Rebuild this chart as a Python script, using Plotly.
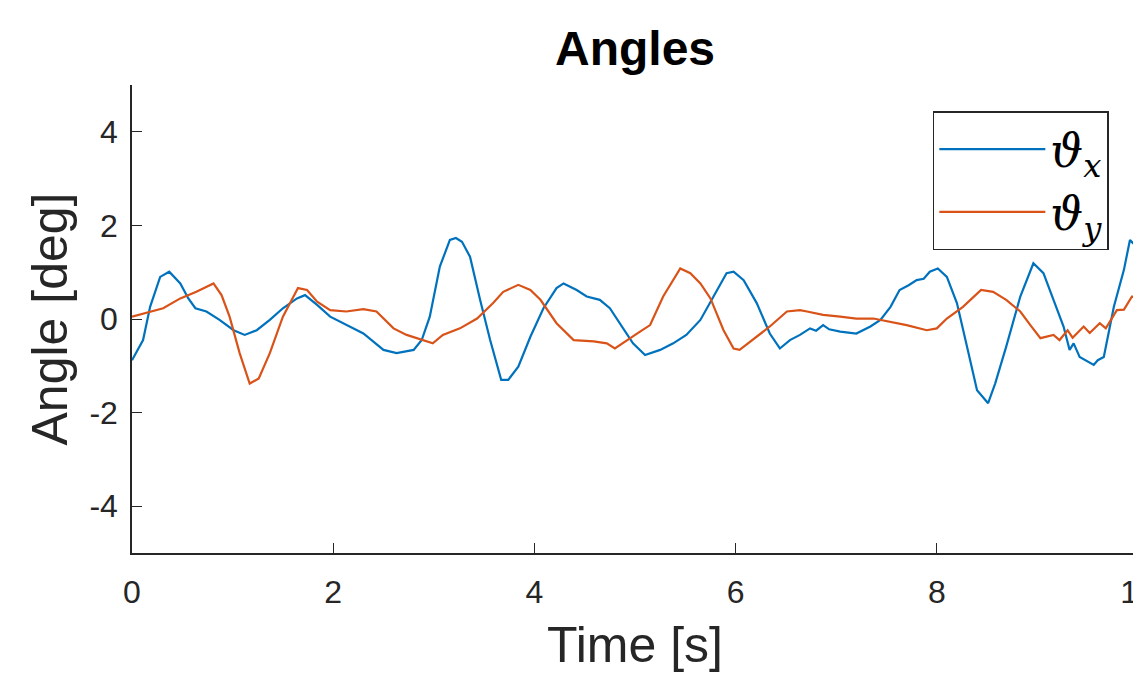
import plotly.graph_objects as go

# Time samples and angle values
t_x = [0.00, 0.11, 0.18, 0.28, 0.37, 0.48, 0.56, 0.63, 0.74, 0.87, 1.01, 1.12, 1.24, 1.37, 1.50,
       1.64, 1.72, 1.84, 1.97, 2.13, 2.30, 2.50, 2.63, 2.80, 2.88, 2.96, 3.06, 3.16, 3.22, 3.28,
       3.36, 3.46, 3.56, 3.67, 3.74, 3.84, 3.96, 4.09, 4.22, 4.29, 4.42, 4.52, 4.65, 4.75, 4.85,
       4.98, 5.10, 5.25, 5.38, 5.51, 5.65, 5.78, 5.91, 5.98, 6.08, 6.21, 6.34, 6.44, 6.54, 6.64,
       6.74, 6.80, 6.87, 6.93, 7.04, 7.20, 7.34, 7.44, 7.54, 7.63, 7.72, 7.80, 7.87, 7.93, 8.01,
       8.10, 8.20, 8.30, 8.40, 8.51, 8.58, 8.69, 8.83, 8.96, 9.06, 9.16, 9.26, 9.32, 9.36, 9.42,
       9.50, 9.56, 9.60, 9.66, 9.76, 9.86, 9.92, 9.95, 9.98]
theta_x = [-0.88, -0.45, 0.26, 0.90, 1.01, 0.76, 0.44, 0.23, 0.16, -0.02, -0.24, -0.34, -0.24, -0.02, 0.23,
           0.44, 0.51, 0.30, 0.05, -0.13, -0.31, -0.66, -0.73, -0.66, -0.45, 0.05, 1.12, 1.69, 1.73, 1.65,
           1.33, 0.41, -0.45, -1.30, -1.30, -1.02, -0.38, 0.23, 0.66, 0.76, 0.62, 0.48, 0.41, 0.23, -0.09,
           -0.52, -0.77, -0.66, -0.52, -0.34, -0.02, 0.48, 0.98, 1.01, 0.83, 0.34, -0.31, -0.63, -0.45, -0.34,
           -0.20, -0.25, -0.13, -0.22, -0.27, -0.31, -0.16, -0.02, 0.26, 0.62, 0.72, 0.83, 0.86, 1.01, 1.08,
           0.90, 0.34, -0.59, -1.52, -1.80, -1.38, -0.59, 0.48, 1.19, 0.98, 0.41, -0.16, -0.66, -0.52, -0.81,
           -0.90, -0.98, -0.88, -0.81, 0.26, 1.05, 1.69, 1.62, 1.60]

t_y = [0.00, 0.18, 0.31, 0.48, 0.64, 0.81, 0.89, 0.97, 1.07, 1.17, 1.26, 1.37, 1.50, 1.65, 1.74,
       1.84, 1.97, 2.13, 2.30, 2.43, 2.60, 2.73, 2.90, 2.99, 3.09, 3.26, 3.43, 3.59, 3.69, 3.84,
       3.96, 4.06, 4.22, 4.39, 4.59, 4.72, 4.80, 4.92, 5.05, 5.15, 5.28, 5.45, 5.55, 5.65, 5.75,
       5.88, 5.98, 6.04, 6.17, 6.34, 6.51, 6.64, 6.71, 6.87, 7.04, 7.20, 7.37, 7.54, 7.70, 7.90,
       8.00, 8.10, 8.26, 8.44, 8.56, 8.69, 8.83, 8.93, 9.03, 9.16, 9.22, 9.30, 9.35, 9.46, 9.52,
       9.62, 9.68, 9.79, 9.86, 9.94, 9.98]
theta_y = [0.05, 0.16, 0.23, 0.44, 0.58, 0.76, 0.51, 0.05, -0.73, -1.38, -1.27, -0.73, 0.05, 0.66, 0.62,
           0.37, 0.19, 0.16, 0.21, 0.16, -0.20, -0.34, -0.45, -0.52, -0.34, -0.20, 0.01, 0.34, 0.58, 0.73,
           0.62, 0.41, -0.09, -0.45, -0.48, -0.52, -0.63, -0.45, -0.27, -0.13, 0.48, 1.08, 0.98, 0.76, 0.44,
           -0.24, -0.63, -0.66, -0.45, -0.16, 0.16, 0.19, 0.16, 0.09, 0.05, 0.01, 0.01, -0.06, -0.13, -0.24,
           -0.20, 0.01, 0.26, 0.62, 0.58, 0.41, 0.16, -0.13, -0.41, -0.34, -0.45, -0.24, -0.40, -0.16, -0.30,
           -0.09, -0.20, 0.19, 0.20, 0.48, 0.45]

x_ticks = [0, 2, 4, 6, 8, 10]
y_ticks = [-4, -2, 0, 2, 4]

AX = "#262626"
FONT = "Liberation Sans, Arial, Helvetica, sans-serif"

fig = go.Figure()
fig.add_trace(go.Scatter(x=t_x, y=theta_x, mode="lines", name="<i>ϑ</i><sub><i>x</i></sub>",
                         line=dict(color="#0072BD", width=2.2)))
fig.add_trace(go.Scatter(x=t_y, y=theta_y, mode="lines", name="<i>ϑ</i><sub><i>y</i></sub>",
                         line=dict(color="#D95319", width=2.2)))

fig.update_layout(
    template="none",
    width=1133, height=665,
    margin=dict(l=124, r=3, t=77, b=120, autoexpand=False),
    paper_bgcolor="white", plot_bgcolor="white",
    title=dict(text="<b>Angles</b>", x=0.5534, xanchor="center", y=0.94, yanchor="middle",
               font=dict(family=FONT, size=48, color="black")),
    showlegend=True,
    legend=dict(x=0.971, y=0.944, xanchor="right", yanchor="top",
                bgcolor="white", bordercolor=AX, borderwidth=1.5,
                font=dict(family="DejaVu Serif, serif", size=46, color="black"),
                itemwidth=106, tracegroupgap=0),
)
fig.update_xaxes(
    range=[0, 10], tickvals=x_ticks, ticktext=[str(v) for v in x_ticks],
    showgrid=False, zeroline=False, showline=True, linecolor=AX, linewidth=1.5,
    ticks="inside", ticklen=10, tickwidth=1.2, tickcolor=AX,
    tickfont=dict(family=FONT, size=32, color=AX), ticklabelstandoff=10,
    ticklabeloverflow="allow",
    title=dict(text="Time [s]", font=dict(family=FONT, size=50, color=AX), standoff=18),
    automargin=False, mirror=False,
)
fig.update_yaxes(
    range=[-5, 5], tickvals=y_ticks, ticktext=[str(v) for v in y_ticks],
    showgrid=False, zeroline=False, showline=True, linecolor=AX, linewidth=1.5,
    ticks="inside", ticklen=10, tickwidth=1.2, tickcolor=AX,
    tickfont=dict(family=FONT, size=32, color=AX), ticklabelstandoff=6,
    title=dict(text="Angle [deg]", font=dict(family=FONT, size=50, color=AX), standoff=6),
    automargin=False, mirror=False,
)

fig.write_html("out.html")
